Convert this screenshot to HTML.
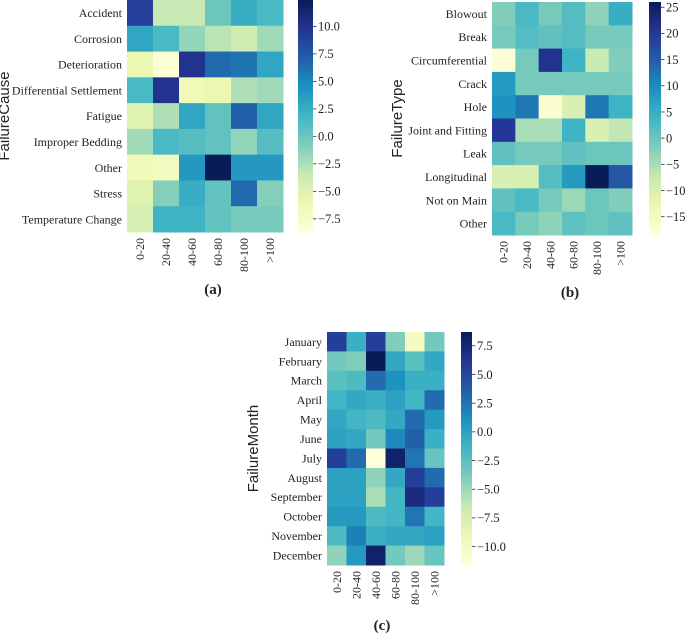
<!DOCTYPE html>
<html><head><meta charset="utf-8"><style>
body{margin:0;background:#fff;width:685px;height:634px;overflow:hidden}
svg text{font-family:"Liberation Serif",serif;fill:#222}
.at{font-family:"Liberation Sans",sans-serif;font-size:15px}
</style></head><body>
<svg id="fig" width="685" height="634"></svg>
<script>
const cols = ["0-20","20-40","40-60","60-80","80-100",">100"];
const rowsA = ["Accident","Corrosion","Deterioration","Differential Settlement","Fatigue","Improper Bedding","Other","Stress","Temperature Change"];
const valsA = [
[9,-3.5,-3.5,0,2.5,1.5],[3,1.5,-1.5,-3,-4,-2],[-6,-8.5,10,6.5,6,3],[1.5,10,-6.5,-6,-2.5,-2],
[-5,-2.5,3,0.5,7,3],[-2,1.5,1,0.5,-1.5,1],[-6.5,-7,4,12.4,4,4],[-5,-1,2.5,0.5,6.5,-1],[-4.5,2,2,0.5,-0.5,-0.5]];
const ticksA = ["10.0","7.5","5.0","2.5","0.0","-2.5","-5.0","-7.5"];
const rowsB = ["Blowout","Break","Circumferential","Crack","Hole","Joint and Fitting","Leak","Longitudinal","Not on Main","Other"];
const valsB = [
[-2,3,-1,2,-3,5],[-1,2,1,2,-1,-1],[-18,-1,21,4,-8,-2],[8,-1,-1,-1,-1,-1],[9,12,-17,-10,12,4],
[20,-5,-5,4,-10,-7],[1,-1,-1,1,0,0],[-10,-10,2,8,26,16],[1,3,-1,-4,0,-2],[3,-1,-3,1,0,1]];
const ticksB = ["25","20","15","10","5","0","-5","-10","-15"];
const rowsC = ["January","February","March","April","May","June","July","August","September","October","November","December"];
const valsC = [
[5.5,-1,5.5,-4,-10,-3.5],[-3.5,-4,8.7,-0.5,-2.5,-0.5],[-2.5,-2,3,1,-1,-1],[-1.5,-0.5,-1,0,-1.5,3],
[-0.5,-1.5,-2,-0.5,3,0.5],[0,-0.5,-3.5,1.5,3.5,-1],[5.5,3,-11.6,8,2.5,-3],[0,0,-4.5,-0.5,5.5,3],
[0,0,-5.5,-1.5,7,5.5],[0.5,0.5,-2,-1.5,2.5,-1.5],[-2,2,-1,-0.5,-0.5,0],[-4.5,0.5,8,-3.5,-5,-3]];
const ticksC = ["7.5","5.0","2.5","0.0","-2.5","-5.0","-7.5","-10.0"];

const stops=["#ffffd9","#edf8b1","#c7e9b4","#7fcdbb","#41b6c4","#1d91c0","#225ea8","#253494","#081d58"];
function hex(c){return [1,3,5].map(i=>parseInt(c.substr(i,2),16));}
function cmap(t){t=Math.max(0,Math.min(1,t));const p=t*8,i=Math.min(7,Math.floor(p)),f=p-i;
 const a=hex(stops[i]),b=hex(stops[i+1]);return "rgb("+a.map((v,k)=>Math.round(v+(b[k]-v)*f)).join(",")+")";}
const NS="http://www.w3.org/2000/svg",svg=document.getElementById("fig");
function el(t,at,p){const e=document.createElementNS(NS,t);for(const k in at)e.setAttribute(k,at[k]);(p||svg).appendChild(e);return e;}
function txt(s,at,p){const e=el("text",at,p);e.textContent=s;return e;}
const defs=el("defs",{});
const lg=el("linearGradient",{id:"cg",x1:0,y1:1,x2:0,y2:0},defs);
stops.forEach((c,i)=>el("stop",{offset:i/8,"stop-color":c},lg));

function heat(cfg){
 const g=el("g",{});
 
 
 const nr=cfg.rows.length,cw=(cfg.x1-cfg.x0)/6,rh=(cfg.y1-cfg.y0)/nr;
 const norm=v=>(v-cfg.vmin)/(cfg.vmax-cfg.vmin);
 cfg.vals.forEach((row,r)=>row.forEach((v,c)=>{
  const cell=el("rect",{x:cfg.x0+c*cw,y:cfg.y0+r*rh,width:cw+0.5,height:rh+0.5,fill:cmap(norm(v))},g);
  
  
 }));
 cfg.rows.forEach((s,r)=>{const t=txt(s,{x:cfg.x0-5,y:cfg.y0+(r+0.5)*rh+4.2,"text-anchor":"end","font-size":12},g);
  
  });
 cols.forEach((s,c)=>{const cx=cfg.x0+(c+0.5)*cw+4,cy=cfg.y1+6;
  const t=txt(s,{x:cx,y:cy,"text-anchor":"end","font-size":12,transform:`rotate(-90 ${cx} ${cy})`},g);
  
  });
 const ty=(cfg.y0+cfg.y1)/2;
 const at=txt(cfg.title,{x:cfg.tx,y:ty,"text-anchor":"middle",class:"at",transform:`rotate(-90 ${cfg.tx} ${ty})`},g);
 
 
 const cb=el("rect",{x:cfg.cx,y:cfg.y0,width:cfg.cwid,height:cfg.y1-cfg.y0,fill:"url(#cg)"},g);
 
 
 const vy=v=>cfg.y1-norm(v)*(cfg.y1-cfg.y0);
 cfg.ticks.forEach(s=>{const y=vy(parseFloat(s));
  el("line",{x1:cfg.cx+cfg.cwid,x2:cfg.cx+cfg.cwid+3.5,y1:y,y2:y,stroke:"#333","stroke-width":0.8},g);
  const t=txt(s.replace("-","\u2212"),{x:cfg.cx+cfg.cwid+5,y:y+4.3,"font-size":12.5},g);
  
  });
 const cap=txt(cfg.cap,{x:cfg.capx,y:cfg.capy,"text-anchor":"middle","font-size":15,"font-weight":"bold"},g);
 
 
}
heat({name:"heatmap-a",rows:rowsA,vals:valsA,ticks:ticksA,vmin:-8.7,vmax:12.4,x0:127,x1:283,y0:0,y1:232,cx:298,cwid:15,tx:9,title:"FailureCause",cap:"(a)",capx:213,capy:294});
heat({name:"heatmap-b",rows:rowsB,vals:valsB,ticks:ticksB,vmin:-18.5,vmax:26,x0:492,x1:632,y0:2,y1:235,cx:649,cwid:12,tx:402,title:"FailureType",cap:"(b)",capx:570,capy:297});
heat({name:"heatmap-c",rows:rowsC,vals:valsC,ticks:ticksC,vmin:-11.6,vmax:8.7,x0:327,x1:444,y0:332,y1:565,cx:461,cwid:11,tx:258,title:"FailureMonth",cap:"(c)",capx:382,capy:630});
</script>
</body></html>
